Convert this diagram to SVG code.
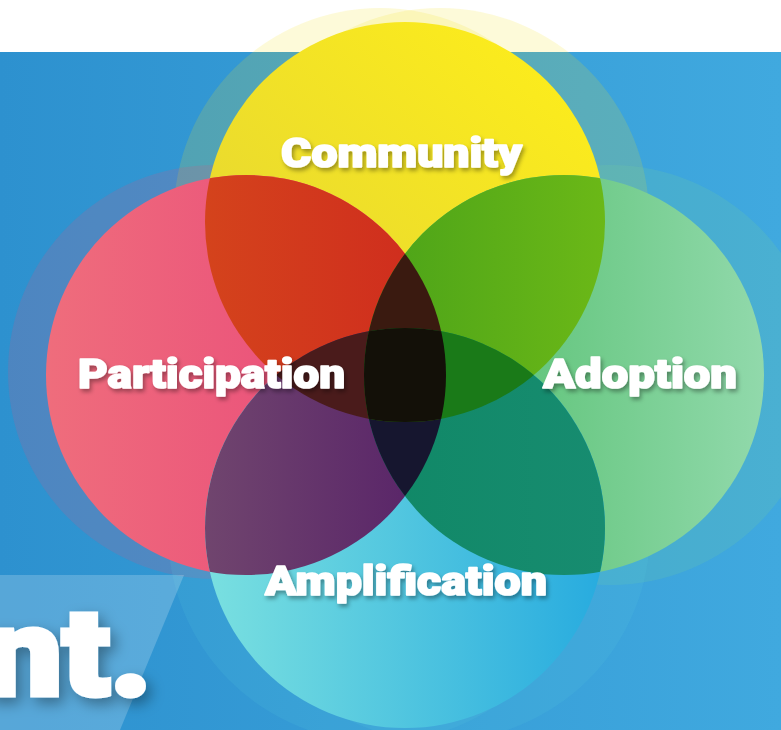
<svg xmlns="http://www.w3.org/2000/svg" width="781" height="730" viewBox="0 0 781 730">
<defs>
<style>
.lbl{font-family:"Roboto","Inter","Liberation Sans",sans-serif;font-weight:900;fill:#ffffff;stroke:#ffffff;stroke-width:1.6px;stroke-linejoin:round;text-anchor:middle;font-size:40px;filter:url(#ts)}
.hy{fill:#f5e11e;opacity:0.17}
.hp{fill:#ec4f78;opacity:0.17}
.hg{fill:#7fd494;opacity:0.17}
.hc{fill:#60d2e2;opacity:0.13}
</style>
<linearGradient id="bg" x1="0" y1="0" x2="1" y2="0"><stop offset="0" stop-color="#2d91cf"/><stop offset="1" stop-color="#40a9df"/></linearGradient>
<linearGradient id="gY" gradientUnits="userSpaceOnUse" x1="260" y1="380" x2="550" y2="60"><stop offset="0" stop-color="#e4d534"/><stop offset="1" stop-color="#fcec1c"/></linearGradient>
<linearGradient id="gP" gradientUnits="userSpaceOnUse" x1="46" y1="0" x2="446" y2="0"><stop offset="0" stop-color="#ef6d7c"/><stop offset="1" stop-color="#e8427a"/></linearGradient>
<linearGradient id="gG" gradientUnits="userSpaceOnUse" x1="364" y1="0" x2="764" y2="0"><stop offset="0" stop-color="#46b960"/><stop offset="1" stop-color="#91d9ab"/></linearGradient>
<linearGradient id="gC" gradientUnits="userSpaceOnUse" x1="205" y1="0" x2="605" y2="0"><stop offset="0" stop-color="#7ae0e0"/><stop offset="1" stop-color="#27abdf"/></linearGradient>
<linearGradient id="gYP" gradientUnits="userSpaceOnUse" x1="205" y1="0" x2="446" y2="0"><stop offset="0" stop-color="#d4431c"/><stop offset="1" stop-color="#cf2a1e"/></linearGradient>
<linearGradient id="gYG" gradientUnits="userSpaceOnUse" x1="364" y1="0" x2="605" y2="0"><stop offset="0" stop-color="#4aa219"/><stop offset="1" stop-color="#6bb817"/></linearGradient>
<linearGradient id="gPC" gradientUnits="userSpaceOnUse" x1="205" y1="0" x2="446" y2="0"><stop offset="0" stop-color="#70456e"/><stop offset="1" stop-color="#562068"/></linearGradient>
<linearGradient id="gGC" gradientUnits="userSpaceOnUse" x1="364" y1="0" x2="605" y2="0"><stop offset="0" stop-color="#108866"/><stop offset="1" stop-color="#178c70"/></linearGradient>
<clipPath id="cY"><circle cx="405" cy="222" r="200"/></clipPath>
<clipPath id="cP"><circle cx="246" cy="375" r="200"/></clipPath>
<clipPath id="cG"><circle cx="564" cy="375" r="200"/></clipPath>
<clipPath id="cC"><circle cx="405" cy="528" r="200"/></clipPath>
<filter id="ts" x="-10%" y="-30%" width="125%" height="180%"><feDropShadow dx="2" dy="3" stdDeviation="2" flood-color="#000" flood-opacity="0.35"/></filter>
<filter id="bs" x="-30%" y="-30%" width="160%" height="160%"><feDropShadow dx="5" dy="6" stdDeviation="7" flood-color="#000" flood-opacity="0.35"/></filter>
</defs>

<rect x="0" y="0" width="781" height="730" fill="#ffffff"/>
<rect x="0" y="52" width="781" height="678" fill="url(#bg)"/>

<g id="halos">
<circle class="hy" cx="380" cy="214" r="206"/>
<circle class="hy" cx="440" cy="217" r="209"/>
<circle class="hp" cx="215" cy="372" r="207"/>
<circle class="hg" cx="610" cy="375" r="210"/>
<circle class="hc" cx="378" cy="532" r="210"/>
<circle class="hc" cx="440" cy="531" r="210"/>
</g>

<g id="banner">
<polygon points="0,575 184,575 120,730 0,730" fill="#ffffff" opacity="0.2"/>
<text x="-16" y="695" font-family="Roboto, Inter, 'Liberation Sans', sans-serif" font-weight="900" font-size="122" fill="#ffffff" stroke="#ffffff" stroke-width="5" stroke-linejoin="miter" textLength="168" lengthAdjust="spacingAndGlyphs" filter="url(#bs)">nt.</text>
</g>

<g id="node-community"><circle cx="405" cy="222" r="200" fill="url(#gY)"/></g>
<g id="node-participation"><circle cx="246" cy="375" r="200" fill="url(#gP)"/></g>
<g id="node-adoption"><circle cx="564" cy="375" r="200" fill="url(#gG)"/></g>
<g id="node-amplification"><circle cx="405" cy="528" r="200" fill="url(#gC)"/></g>

<g id="overlaps">
<g clip-path="url(#cY)"><circle cx="246" cy="375" r="200" fill="url(#gYP)"/></g>
<g clip-path="url(#cY)"><circle cx="564" cy="375" r="200" fill="url(#gYG)"/></g>
<g clip-path="url(#cC)"><circle cx="246" cy="375" r="200" fill="url(#gPC)"/></g>
<g clip-path="url(#cC)"><circle cx="564" cy="375" r="200" fill="url(#gGC)"/></g>
<g clip-path="url(#cY)"><g clip-path="url(#cP)"><circle cx="564" cy="375" r="200" fill="#3a1a10"/></g></g>
<g clip-path="url(#cC)"><g clip-path="url(#cP)"><circle cx="564" cy="375" r="200" fill="#16162f"/></g></g>
<g clip-path="url(#cY)"><g clip-path="url(#cC)"><circle cx="246" cy="375" r="200" fill="#4a1b1b"/></g></g>
<g clip-path="url(#cY)"><g clip-path="url(#cC)"><circle cx="564" cy="375" r="200" fill="#1a7a18"/></g></g>
<g clip-path="url(#cY)"><g clip-path="url(#cC)"><g clip-path="url(#cP)"><circle cx="564" cy="375" r="200" fill="#131008"/></g></g></g>
</g>

<g id="labels">
<text class="lbl" x="401.5" y="167" textLength="241" lengthAdjust="spacingAndGlyphs">Community</text>
<text class="lbl" x="211.5" y="388" textLength="267" lengthAdjust="spacingAndGlyphs">Participation</text>
<text class="lbl" x="640" y="388" textLength="194" lengthAdjust="spacingAndGlyphs">Adoption</text>
<text class="lbl" x="406" y="595" textLength="282" lengthAdjust="spacingAndGlyphs">Amplification</text>
</g>
</svg>
